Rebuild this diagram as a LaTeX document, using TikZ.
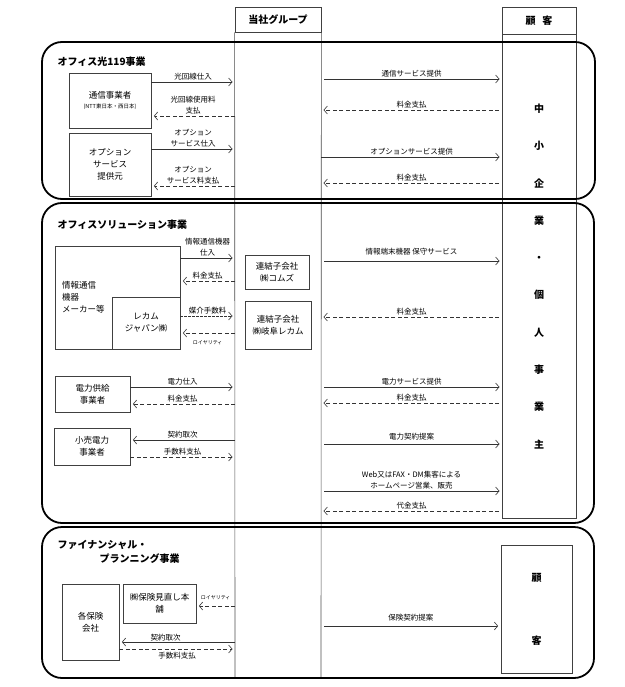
\documentclass[tikz,border=0pt]{standalone}
\usepackage{fontspec}
\setmainfont{Noto Sans CJK JP}
\usetikzlibrary{arrows.meta}
\begin{document}
\begin{tikzpicture}[x=1pt, y=-1pt,
  sec/.style={draw=black, line width=1.8pt, rounded corners=20pt},
  col/.style={draw=black!70, line width=0.6pt},
  box/.style={draw=black!75, line width=0.7pt, align=center, font=\fontsize{8.5}{12}\selectfont},
  sol/.style={draw=black!80, line width=0.6pt, shorten >=2.5pt, -{Straight Barb[length=3.5pt,width=8pt]}},
  dsh/.style={sol, dash pattern=on 4pt off 2.5pt},
  fdsh/.style={sol, dash pattern=on 2.5pt off 1.5pt},
  far/.style={shorten <=3pt},
  lbl/.style={font=\fontsize{7.5}{11}\selectfont, align=center, inner sep=1.5pt},
  tiny/.style={font=\fontsize{5}{6}\selectfont, inner sep=2pt},
  ttl/.style={font=\fontsize{10}{14}\selectfont\bfseries, anchor=west, align=left}]
\useasboundingbox (0,0) rectangle (624,687);

% columns
\node[box, font=\fontsize{10}{12}\selectfont\bfseries, minimum width=86pt, minimum height=25pt] (grp) at (278,19.5) {当社グループ};
\draw[col] (grp.south west) -- (235,677);
\draw[col] (grp.south east) -- (321,677);
\coordinate (gL) at (235,0);
\coordinate (gR) at (321,0);
\node[box, font=\fontsize{10}{12}\selectfont\bfseries, minimum width=74pt, minimum height=27pt] (kyaku) at (539,20.5) {顧\hspace{0.7em}客};
\node[box, font=\fontsize{10}{37.3}\selectfont\bfseries, minimum width=74pt, minimum height=484pt, anchor=north, outer sep=0pt] (chusho) at (kyaku.south) {中\\小\\企\\業\\・\\個\\人\\事\\業\\主};

% sections
\draw[sec] (42,42) rectangle (595,199);
\draw[sec] (42,203) rectangle (594,523);
\draw[sec] (42,527) rectangle (594,678);
\node[ttl] (t1) at (54,62) {オフィス光119事業};
\node[ttl] (t2) at (54,225) {オフィスソリューション事業};
\node[ttl] (t3) at (54,552) {ファイナンシャル・\\\hspace{42pt}プランニング事業};

% section 1
\node[box, minimum width=82pt, minimum height=55pt] (tsushin) at (110,100.5) {通信事業者\\[-2pt]{\fontsize{5.5}{7}\selectfont (NTT東日本・西日本)}};
\node[box, minimum width=82pt, minimum height=63pt] (option) at (110,164.5) {オプション\\サービス\\提供元};
\draw[sol] (tsushin.east |- 0,82) -- (gL |- 0,82) node[lbl, midway, above] {光回線仕入};
\draw[dsh] (gL |- 0,116) -- (tsushin.east |- 0,116) node[lbl, midway, above] {光回線使用料\\支払};
\draw[sol] (option.east |- 0,149) -- (gL |- 0,149) node[lbl, midway, above] {オプション\\サービス仕入};
\draw[dsh] (gL |- 0,186) -- (option.east |- 0,186) node[lbl, midway, above] {オプション\\サービス料支払};
\draw[sol, far] (gR |- 0,79) -- (chusho.west |- 0,79) node[lbl, midway, above] {通信サービス提供};
\draw[dsh, far] (chusho.west |- 0,110) -- (gR |- 0,110) node[lbl, midway, above] {料金支払};
\draw[sol] (gR |- 0,157) -- (chusho.west |- 0,157) node[lbl, midway, above] {オプションサービス提供};
\draw[dsh, far] (chusho.west |- 0,183) -- (gR |- 0,183) node[lbl, midway, above] {料金支払};

% section 2
\node[box, minimum width=125pt, minimum height=103pt, text width=111pt, inner xsep=7pt, align=left] (maker) at (117.5,297.5) {情報通信\\機器\\メーカー等};
\node[box, minimum width=68pt, minimum height=52pt] (recam) at (146,323) {レカム\\ジャパン㈱};
\node[box, minimum width=64pt, minimum height=34pt] (coms) at (277,272) {連結子会社\\㈱コムズ};
\node[box, minimum width=66pt, minimum height=48pt] (gifu) at (278,325) {連結子会社\\㈱岐阜レカム};
\draw[sol] (maker.east |- 0,258) -- (gL |- 0,258) node[lbl, midway, above] {情報通信機器\\仕入};
\draw[dsh] (gL |- 0,281) -- (maker.east |- 0,281) node[lbl, midway, above] {料金支払};
\draw[fdsh] (recam.east |- 0,316) -- (gL |- 0,316) node[lbl, midway, above] {媒介手数料};
\draw[dsh] (gL |- 0,333) -- (recam.east |- 0,333) node[tiny, midway, below, yshift=-5pt] {ロイヤリティ};
\draw[sol, far] (gR |- 0,261) -- (chusho.west |- 0,261) node[lbl, midway, above, yshift=4pt] {情報端末機器 保守サービス};
\draw[dsh, far] (chusho.west |- 0,317) -- (gR |- 0,317) node[lbl, midway, above] {料金支払};

\node[box, minimum width=75pt, minimum height=36pt] (denkyo) at (92.5,394) {電力供給\\事業者};
\node[box, minimum width=76pt, minimum height=37pt] (kouri) at (92,446.5) {小売電力\\事業者};
\draw[sol] (denkyo.east |- 0,387) -- (gL |- 0,387) node[lbl, midway, above] {電力仕入};
\draw[dsh] (gL |- 0,404) -- (denkyo.east |- 0,404) node[lbl, midway, above] {料金支払};
\draw[sol] (gL |- 0,440) -- (kouri.east |- 0,440) node[lbl, midway, above] {契約取次};
\draw[dsh] (kouri.east |- 0,457) -- (gL |- 0,457) node[lbl, midway, above] {手数料支払};
\draw[sol, far] (gR |- 0,387) -- (chusho.west |- 0,387) node[lbl, midway, above] {電力サービス提供};
\draw[dsh, far] (chusho.west |- 0,403) -- (gR |- 0,403) node[lbl, midway, above] {料金支払};
\draw[sol, far] (gR |- 0,444) -- (chusho.west |- 0,444) node[lbl, midway, above, yshift=2pt] {電力契約提案};
\draw[sol, far] (gR |- 0,491) -- (chusho.west |- 0,491) node[lbl, midway, above] {Web又はFAX・DM集客による\\ホームページ営業、販売};
\draw[dsh, far] (chusho.west |- 0,511) -- (gR |- 0,511) node[lbl, midway, above] {代金支払};

% section 3
\node[box, minimum width=57pt, minimum height=76pt] (hoken) at (90.5,622) {各保険\\会社};
\node[box, minimum width=73pt, minimum height=39pt] (minaoshi) at (159.5,603.5) {㈱保険見直し本\\舗};
\node[box, font=\fontsize{10}{63}\selectfont\bfseries, minimum width=71pt, minimum height=128pt] (kokyaku) at (536.5,609) {顧\\客};
\draw[dsh] (gL |- 0,606) -- (minaoshi.east |- 0,606) node[tiny, midway, above, yshift=4pt] {ロイヤリティ};
\draw[sol] (gL |- 0,642) -- (hoken.east |- 0,642) node[lbl, pos=0.6, above, inner sep=0.5pt] {契約取次};
\draw[dsh] (hoken.east |- 0,649) -- (gL |- 0,649) node[lbl, midway, below, inner sep=3pt] {手数料支払};
\draw[sol, far] (gR |- 0,626) -- (kokyaku.west |- 0,626) node[lbl, midway, above, yshift=3pt] {保険契約提案};
\end{tikzpicture}
\end{document}
